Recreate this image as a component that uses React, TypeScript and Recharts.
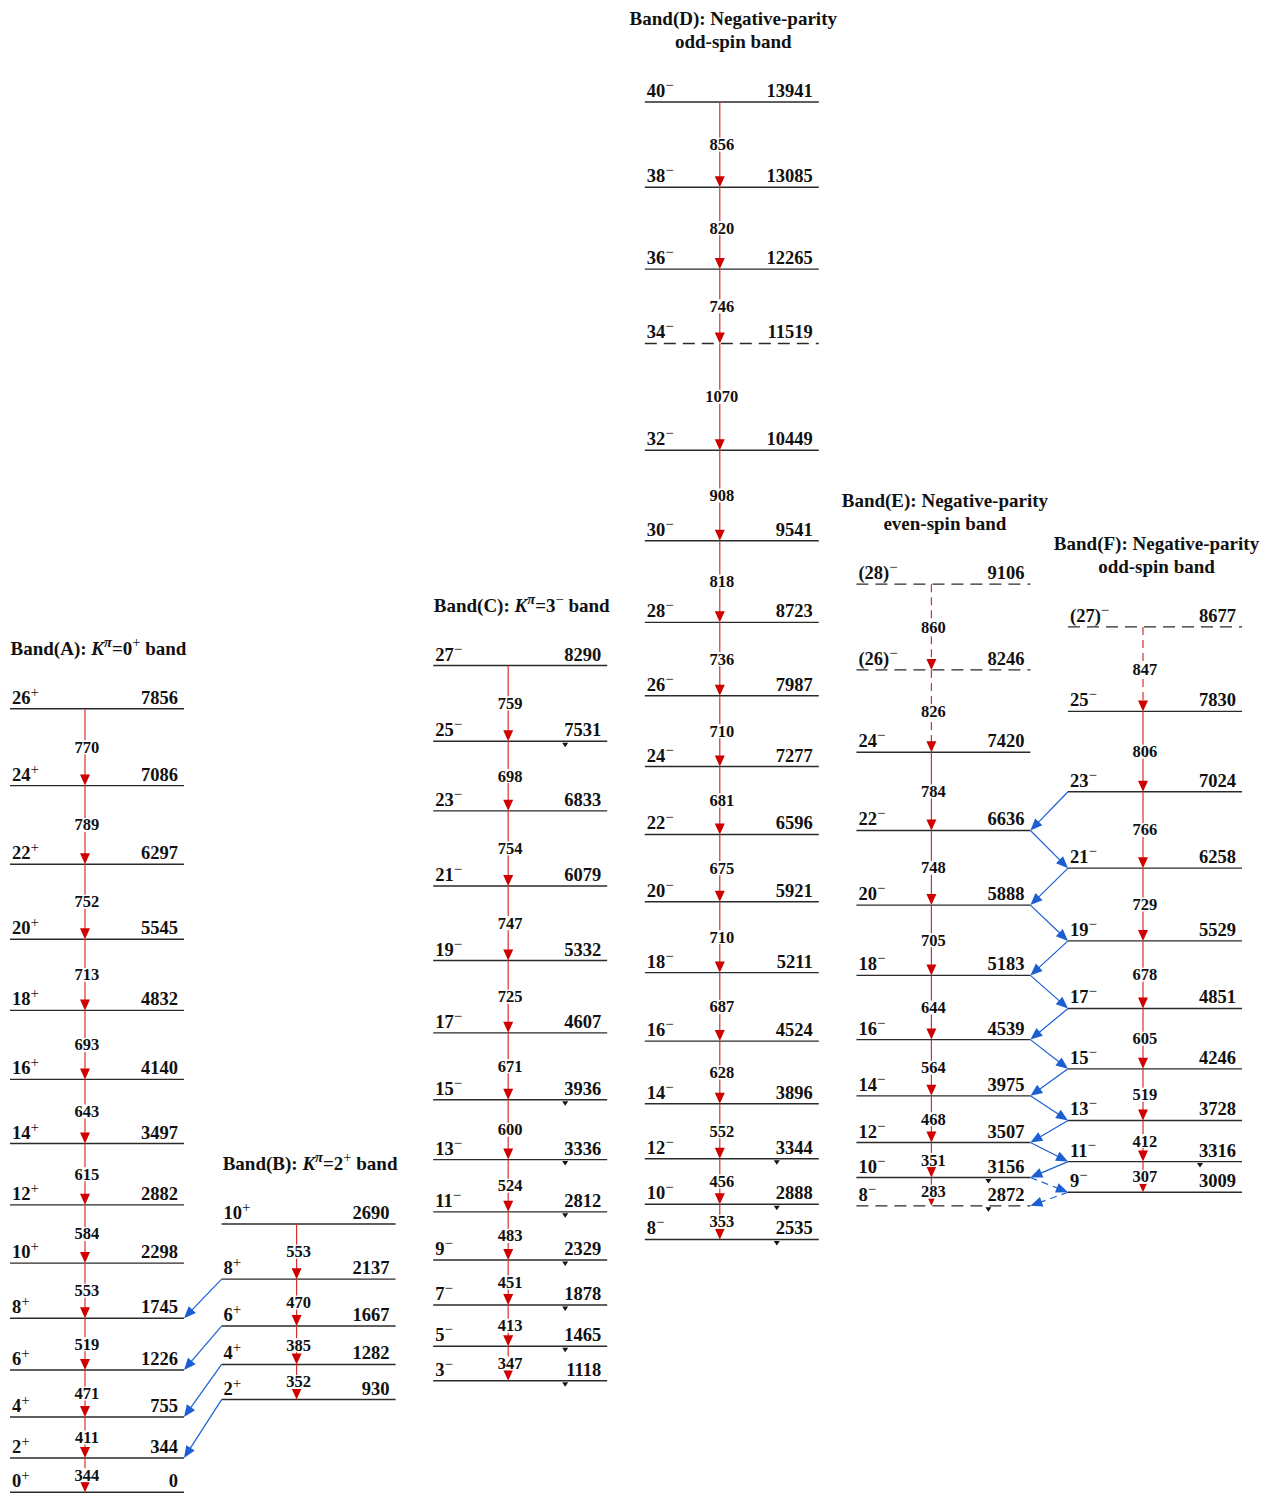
import React from 'react';
import { ComposedChart, XAxis, YAxis, ReferenceLine, ReferenceDot, Scatter } from 'recharts';

const FONT = '"Liberation Serif", "Times New Roman", Times, serif';
const MINUS = '\u2212';

// Band(A): K=0+ band
const aSpins = ['0', '2', '4', '6', '8', '10', '12', '14', '16', '18', '20', '22', '24', '26'];
const aLevels = [0, 344, 755, 1226, 1745, 2298, 2882, 3497, 4140, 4832, 5545, 6297, 7086, 7856];
const aGammas = [344, 411, 471, 519, 553, 584, 615, 643, 693, 713, 752, 789, 770];

// Band(B): K=2+ band
const bSpins = ['2', '4', '6', '8', '10'];
const bLevels = [930, 1282, 1667, 2137, 2690];
const bGammas = [352, 385, 470, 553];

// Band(C): K=3- band
const cSpins = ['3', '5', '7', '9', '11', '13', '15', '17', '19', '21', '23', '25', '27'];
const cLevels = [1118, 1465, 1878, 2329, 2812, 3336, 3936, 4607, 5332, 6079, 6833, 7531, 8290];
const cGammas = [347, 413, 451, 483, 524, 600, 671, 725, 747, 754, 698, 759];
const cOutLevels = [1118, 1465, 1878, 2329, 2812, 3336, 3936, 7531];

// Band(D): negative-parity odd-spin
const dSpins = ['8', '10', '12', '14', '16', '18', '20', '22', '24', '26', '28', '30', '32', '34', '36', '38', '40'];
const dLevels = [2535, 2888, 3344, 3896, 4524, 5211, 5921, 6596, 7277, 7987, 8723, 9541, 10449, 11519, 12265, 13085, 13941];
const dGammas = [353, 456, 552, 628, 687, 710, 675, 681, 710, 736, 818, 908, 1070, 746, 820, 856];
const dDashedLevels = [11519];
const dOutLevels = [2535, 2888, 3344];

// Band(E): negative-parity even-spin
const eSpins = ['8', '10', '12', '14', '16', '18', '20', '22', '24', '(26)', '(28)'];
const eLevels = [2872, 3156, 3507, 3975, 4539, 5183, 5888, 6636, 7420, 8246, 9106];
const eGammas = [283, 351, 468, 564, 644, 705, 748, 784, 826, 860];
const eDashedLevels = [2872, 8246, 9106];
const eDashedGammas = [826, 860];
const eOutLevels = [2872, 3156];

// Band(F): negative-parity odd-spin
const fSpins = ['9', '11', '13', '15', '17', '19', '21', '23', '25', '(27)'];
const fLevels = [3009, 3316, 3728, 4246, 4851, 5529, 6258, 7024, 7830, 8677];
const fGammas = [307, 412, 519, 605, 678, 729, 766, 806, 847];
const fDashedLevels = [8677];
const fDashedGammas = [847];
const fOutLevels = [3316];

// inter-band transitions
const bToA = [
  [2137, 1745],
  [1667, 1226],
  [1282, 755],
  [930, 344],
];
// F -> E -> F ... zigzag, starting in band F
const fePath = [7024, 6636, 6258, 5888, 5529, 5183, 4851, 4539, 4246, 3975, 3728, 3507, 3316, 3156, 3009, 2872];
const feDashedFrom = [3156, 3009];

type Seg = { t: string; i?: boolean; sup?: boolean; light?: boolean };

const bands = [
  { key: 'A', spins: aSpins, levels: aLevels, gammas: aGammas, parity: '+', dashedLevels: [] as number[], dashedGammas: [] as number[], out: [] as number[],
    title: [[{ t: 'Band(A): ' }, { t: 'K', i: true }, { t: 'π', i: true, sup: true }, { t: '=0' }, { t: '+', sup: true, light: true }, { t: ' band' }]] as Seg[][] },
  { key: 'B', spins: bSpins, levels: bLevels, gammas: bGammas, parity: '+', dashedLevels: [], dashedGammas: [], out: [],
    title: [[{ t: 'Band(B): ' }, { t: 'K', i: true }, { t: 'π', i: true, sup: true }, { t: '=2' }, { t: '+', sup: true, light: true }, { t: ' band' }]] as Seg[][] },
  { key: 'C', spins: cSpins, levels: cLevels, gammas: cGammas, parity: MINUS, dashedLevels: [], dashedGammas: [], out: cOutLevels,
    title: [[{ t: 'Band(C): ' }, { t: 'K', i: true }, { t: 'π', i: true, sup: true }, { t: '=3' }, { t: MINUS, sup: true, light: true }, { t: ' band' }]] as Seg[][] },
  { key: 'D', spins: dSpins, levels: dLevels, gammas: dGammas, parity: MINUS, dashedLevels: dDashedLevels, dashedGammas: [], out: dOutLevels,
    title: [[{ t: 'Band(D): Negative-parity' }], [{ t: 'odd-spin band' }]] as Seg[][] },
  { key: 'E', spins: eSpins, levels: eLevels, gammas: eGammas, parity: MINUS, dashedLevels: eDashedLevels, dashedGammas: eDashedGammas, out: eOutLevels,
    title: [[{ t: 'Band(E): Negative-parity' }], [{ t: 'even-spin band' }]] as Seg[][] },
  { key: 'F', spins: fSpins, levels: fLevels, gammas: fGammas, parity: MINUS, dashedLevels: fDashedLevels, dashedGammas: fDashedGammas, out: fOutLevels,
    title: [[{ t: 'Band(F): Negative-parity' }], [{ t: 'odd-spin band' }]] as Seg[][] },
];

// layout, in units of one band width
const BAND_STEP = 1.2161;
const GAMMA_POS = 0.431;
const OUT_POS = 0.7586;
const X_DOMAIN = [-0.05747, 7.2414];
const Y_DOMAIN = [-7, 14963];

const left = (i: number) => i * BAND_STEP;

const RED = '#d83030';
const RED_HEAD = '#d00000';
const BLUE = '#1b5fd3';

function segs(list: Seg[]) {
  let up = false;
  return list.map((s, k) => {
    let dy: number | undefined;
    if (s.sup && !up) { dy = -8; up = true; }
    else if (!s.sup && up) { dy = 8; up = false; }
    return (
      <tspan key={k} dy={dy} fontStyle={s.i ? 'italic' : undefined}
        fontSize={s.sup ? 14.5 : undefined} fontWeight={s.light ? 'normal' : undefined}>{s.t}</tspan>
    );
  });
}

function levelShape(spin: string, parity: string, energy: number, dashed: boolean) {
  return (p: any) => {
    const { x1, y1, x2 } = p;
    const y = y1;
    return (
      <g>
        <line x1={x1} y1={y} x2={x2} y2={y} stroke="#2a2a2a" strokeWidth={1.4}
          strokeDasharray={dashed ? '12 7' : undefined} />
        <text x={x1 + 2} y={y - 5} fontFamily={FONT} fontSize={18.5} fontWeight="bold" fill="#111">
          {spin}
          <tspan dy={-7} fontSize={15} fontWeight="normal">{parity}</tspan>
        </text>
        <text x={x2 - 6} y={y - 5} textAnchor="end" fontFamily={FONT} fontSize={18.5} fontWeight="bold" fill="#111">
          {energy}
        </text>
      </g>
    );
  };
}

function gammaShape(label: number, dashed: boolean) {
  return (p: any) => {
    const { x1, y1, y2 } = p;
    const top = Math.min(y1, y2);
    const bot = Math.max(y1, y2);
    const mid = (top + bot) / 2;
    const txt = String(label);
    const w = txt.length * 8.5 + 2;
    return (
      <g>
        <line x1={x1} y1={top} x2={x1} y2={bot - 8} stroke={RED} strokeWidth={1.2}
          strokeDasharray={dashed ? '8 5' : undefined} />
        <polygon points={`${x1 - 5},${bot - 11} ${x1 + 5},${bot - 11} ${x1},${bot}`} fill={RED_HEAD} />
        <rect x={x1 + 2 - w / 2} y={mid - 7} width={w} height={14} fill="#fff" />
        <text x={x1 + 2} y={mid + 5.5} textAnchor="middle" fontFamily={FONT} fontSize={16.5} fontWeight="bold" fill="#111">
          {txt}
        </text>
      </g>
    );
  };
}

function interShape(dashed: boolean) {
  return (p: any) => {
    const { x1, y1, x2, y2 } = p;
    const dx = x2 - x1;
    const dy = y2 - y1;
    const len = Math.sqrt(dx * dx + dy * dy);
    const ux = dx / len;
    const uy = dy / len;
    const hl = 12;
    const hw = 5;
    const bx = x2 - ux * hl;
    const by = y2 - uy * hl;
    return (
      <g>
        <line x1={x1} y1={y1} x2={bx + ux * 2} y2={by + uy * 2} stroke={BLUE} strokeWidth={1.2}
          strokeDasharray={dashed ? '7 5' : undefined} />
        <polygon points={`${x2},${y2} ${bx - uy * hw},${by + ux * hw} ${bx + uy * hw},${by - ux * hw}`} fill={BLUE} />
      </g>
    );
  };
}

function titleShape(lines: Seg[][]) {
  return (p: any) => {
    const { cx, cy } = p;
    const n = lines.length;
    return (
      <g>
        {lines.map((ln, k) => (
          <text key={k} x={cx + 1.5} y={cy - 54 - (n - 1 - k) * 23} textAnchor="middle"
            fontFamily={FONT} fontSize={19} fontWeight="bold" fill="#111">
            {segs(ln)}
          </text>
        ))}
      </g>
    );
  };
}

const MarkerShape = (p: any) => {
  const { cx, cy } = p;
  return <polygon points={`${cx - 3},${cy + 1.5} ${cx + 3},${cy + 1.5} ${cx},${cy + 6}`} fill="#111" />;
};

const markerData = bands.flatMap((b, i) => b.out.map((e) => ({ x: left(i) + OUT_POS, y: e })));

export default function App() {
  const elems: React.ReactNode[] = [];

  bands.forEach((b, i) => {
    const x0 = left(i);
    b.levels.forEach((e, k) => {
      elems.push(
        <ReferenceLine key={`lv-${b.key}-${k}`} segment={[{ x: x0, y: e }, { x: x0 + 1, y: e }]}
          shape={levelShape(b.spins[k], b.parity, e, b.dashedLevels.includes(e))} />
      );
    });
  });

  // inter-band (blue)
  const bIdx = 1;
  const aIdx = 0;
  bToA.forEach(([eb, ea], k) => {
    elems.push(
      <ReferenceLine key={`ba-${k}`} segment={[{ x: left(bIdx), y: eb }, { x: left(aIdx) + 1, y: ea }]}
        shape={interShape(false)} />
    );
  });
  const eIdx = 4;
  const fIdx = 5;
  for (let k = 0; k < fePath.length - 1; k++) {
    const fromF = k % 2 === 0;
    const e1 = fePath[k];
    const e2 = fePath[k + 1];
    const p1 = fromF ? { x: left(fIdx), y: e1 } : { x: left(eIdx) + 1, y: e1 };
    const p2 = fromF ? { x: left(eIdx) + 1, y: e2 } : { x: left(fIdx), y: e2 };
    elems.push(
      <ReferenceLine key={`fe-${k}`} segment={[p1, p2]} shape={interShape(feDashedFrom.includes(e1))} />
    );
  }

  bands.forEach((b, i) => {
    const gx = left(i) + GAMMA_POS;
    b.gammas.forEach((g, k) => {
      elems.push(
        <ReferenceLine key={`g-${b.key}-${k}`} segment={[{ x: gx, y: b.levels[k + 1] }, { x: gx, y: b.levels[k] }]}
          shape={gammaShape(g, b.dashedGammas.includes(g))} />
      );
    });
    elems.push(
      <ReferenceDot key={`t-${b.key}`} x={left(i) + 0.5} y={b.levels[b.levels.length - 1]} r={0}
        shape={titleShape(b.title)} />
    );
  });

  return (
    <div style={{ position: 'absolute', left: 0, top: 0, width: 1270, height: 1493, background: '#fff' }}>
      <ComposedChart width={1270} height={1493} margin={{ top: 0, right: 0, bottom: 0, left: 0 }} data={markerData}>
        <XAxis type="number" dataKey="x" domain={X_DOMAIN} hide allowDataOverflow />
        <YAxis type="number" dataKey="y" domain={Y_DOMAIN} hide allowDataOverflow />
        {elems}
        <Scatter data={markerData} dataKey="y" isAnimationActive={false} shape={MarkerShape} />
      </ComposedChart>
    </div>
  );
}
